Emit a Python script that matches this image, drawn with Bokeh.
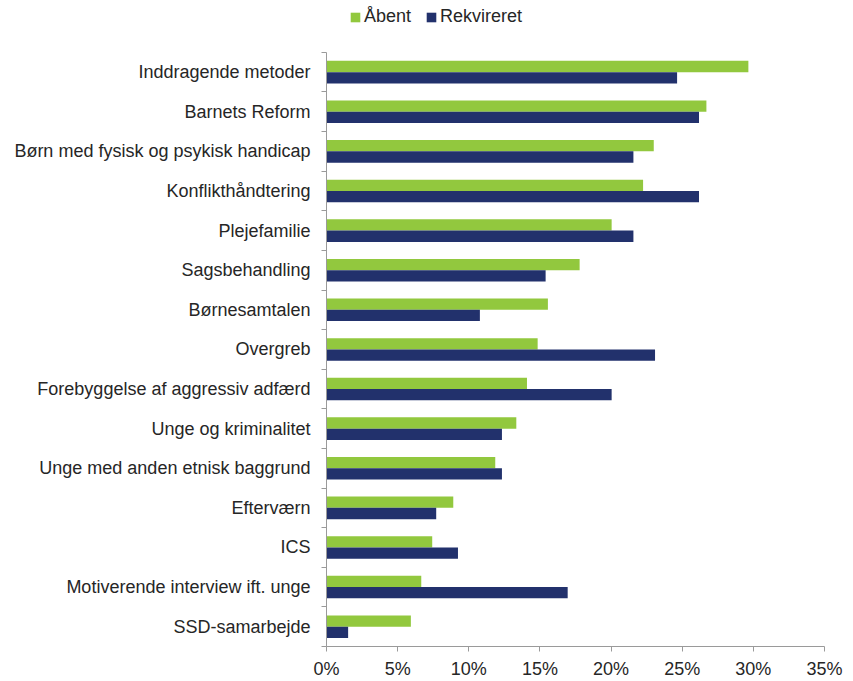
from bokeh.plotting import figure
from bokeh.models import (Range1d, FixedTicker, NumeralTickFormatter, CustomJSTickFormatter,
                          ColumnDataSource, Legend, LegendItem)
from bokeh.transform import dodge
from bokeh.embed import file_html
from bokeh.resources import INLINE

categories = [
    "Inddragende metoder",
    "Barnets Reform",
    "Børn med fysisk og psykisk handicap",
    "Konflikthåndtering",
    "Plejefamilie",
    "Sagsbehandling",
    "Børnesamtalen",
    "Overgreb",
    "Forebyggelse af aggressiv adfærd",
    "Unge og kriminalitet",
    "Unge med anden etnisk baggrund",
    "Efterværn",
    "ICS",
    "Motiverende interview ift. unge",
    "SSD-samarbejde",
]
aabent = [0.2965, 0.2670, 0.2300, 0.2225, 0.2004, 0.1779, 0.1556, 0.1484, 0.1409,
          0.1334, 0.1186, 0.0891, 0.0743, 0.0666, 0.0593]
rekvireret = [0.2464, 0.2618, 0.2157, 0.2618, 0.2157, 0.1540, 0.1078, 0.2309, 0.2004,
              0.1233, 0.1233, 0.0771, 0.0924, 0.1695, 0.0152]
series_names = ["Åbent", "Rekvireret"]
x_ticks = [0, 0.05, 0.10, 0.15, 0.20, 0.25, 0.30, 0.35]

GREEN = "#92C83E"
NAVY = "#22316C"
FONT = "Liberation Sans"
TXT = "#262626"
AXIS = "#9A9A9A"
FS = "18px"

n = len(categories)
legend_room = 1.309  # extra space (in category units) above the first category for the legend
src = ColumnDataSource(dict(idx=list(range(n)), cat=categories, a=aabent, r=rekvireret))

p = figure(width=845, height=681, output_backend="svg", toolbar_location=None,
           x_range=Range1d(0, 0.35), y_range=Range1d(n - 0.5, -0.5 - legend_room),
           min_border=0, min_border_left=326, min_border_right=21, min_border_top=0,
           min_border_bottom=33)
p.outline_line_color = None
p.xgrid.visible = False
p.ygrid.visible = False

bh = 0.285
ra = p.hbar(y=dodge("idx", -bh / 2, range=p.y_range), right="a", left=0, height=bh,
            source=src, fill_color=GREEN, line_color=None)
rr = p.hbar(y=dodge("idx", bh / 2, range=p.y_range), right="r", left=0, height=bh,
            source=src, fill_color=NAVY, line_color=None)

# x axis
xa = p.xaxis[0]
xa.ticker = FixedTicker(ticks=x_ticks)
xa.formatter = NumeralTickFormatter(format="0%")
xa.axis_line_color = AXIS
xa.major_tick_line_color = AXIS
xa.major_tick_in = 0
xa.major_tick_out = 5
xa.minor_tick_line_color = None
xa.major_label_text_font = FONT
xa.major_label_text_font_size = FS
xa.major_label_text_color = TXT
xa.major_label_standoff = 7

# y axis
ya = p.yaxis[0]
ya.bounds = (-0.5, n - 0.5)
ya.ticker = FixedTicker(ticks=list(range(n)), minor_ticks=[i - 0.5 for i in range(n + 1)])
ya.formatter = CustomJSTickFormatter(args=dict(cats=categories),
                                     code="const i = Math.round(tick); return cats[i] || '';")
ya.axis_line_color = AXIS
ya.major_tick_line_color = None
ya.major_tick_in = 0
ya.major_tick_out = 0
ya.minor_tick_line_color = AXIS
ya.minor_tick_in = 0
ya.minor_tick_out = 5
ya.major_label_text_font = FONT
ya.major_label_text_font_size = FS
ya.major_label_text_color = TXT
ya.major_label_standoff = 11

legend = Legend(items=[LegendItem(label=series_names[0], renderers=[ra]),
                       LegendItem(label=series_names[1], renderers=[rr])],
                orientation="horizontal", location=(23, 619))
legend.label_text_font = FONT
legend.label_text_font_size = FS
legend.label_text_color = TXT
legend.glyph_width = 12
legend.glyph_height = 12
legend.label_standoff = 3
legend.spacing = 14
legend.padding = 0
legend.margin = 0
legend.border_line_color = None
legend.background_fill_alpha = 0
p.add_layout(legend, "center")

open("out.html", "w").write(file_html(p, INLINE))
